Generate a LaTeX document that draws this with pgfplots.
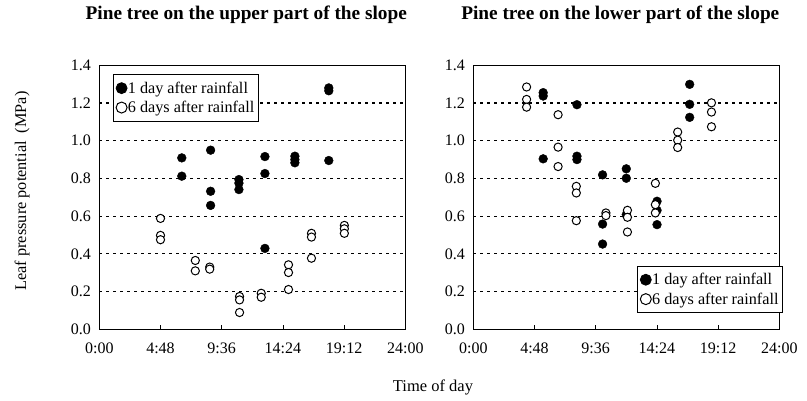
\documentclass[border=0pt]{standalone}
\usepackage{fontspec}
\setmainfont{Liberation Serif}
\usepackage{pgfplots}
\pgfplotsset{compat=1.18}
\pgfplotstableread{
h v
6.47 0.909
6.47 0.812
8.73 0.950
8.73 0.732
8.73 0.657
10.95 0.794
10.95 0.775
10.95 0.741
12.99 0.916
12.99 0.826
12.99 0.429
15.34 0.918
15.34 0.900
15.34 0.883
18.0 1.280
18.0 1.265
18.0 0.895
}\upperone
\pgfplotstableread{
h v
4.8 0.588
4.8 0.498
4.8 0.475
7.53 0.365
7.53 0.310
8.66 0.330
8.66 0.319
11.0 0.174
11.0 0.156
11.0 0.089
12.7 0.191
12.7 0.170
14.84 0.342
14.84 0.301
14.84 0.211
16.64 0.509
16.64 0.489
16.64 0.377
19.22 0.551
19.22 0.533
19.22 0.509
}\uppersix
\pgfplotstableread{
h v
5.48 1.255
5.48 1.237
5.48 0.904
8.13 1.191
8.13 0.918
8.13 0.900
10.14 0.819
10.14 0.558
10.14 0.452
12.0 0.851
12.0 0.801
12.0 0.608
14.41 0.679
14.41 0.631
14.41 0.555
16.97 1.299
16.97 1.193
16.97 1.124
}\lowerone
\pgfplotstableread{
h v
4.18 1.285
4.18 1.219
4.18 1.178
6.65 1.138
6.65 0.966
6.65 0.863
8.08 0.758
8.08 0.723
8.08 0.576
10.4 0.617
10.4 0.603
12.09 0.631
12.09 0.594
12.09 0.516
14.28 0.774
14.28 0.661
14.28 0.617
16.03 1.046
16.03 1.003
16.03 0.964
18.68 1.201
18.68 1.152
18.68 1.074
}\lowersix
\pgfplotsset{
 myax/.style={
  scale only axis, width=306pt, height=264pt,
  anchor=south west,
  xmin=0, xmax=24, ymin=0, ymax=1.4,
  xtick={0,4.8,9.6,14.4,19.2,24},
  xticklabels={0:00,4:48,9:36,14:24,19:12,24:00},
  ytick={0,0.2,0.4,0.6,0.8,1.0,1.2,1.4},
  /pgf/number format/assume math mode=true,
  /pgf/number format/fixed,
  /pgf/number format/fixed zerofill,
  /pgf/number format/precision=1,
  ticklabel style={font=\fontsize{16}{18}\selectfont},
  xtick pos=bottom, ytick pos=left,
  tick align=inside, major tick length=4pt,
  ytick style={draw=none},
  xtick style={line width=0.8pt, black},
  xticklabel style={yshift=-10pt},
  yticklabel style={xshift=-5pt},
  axis line style={line width=1.3pt, black},
  ymajorgrids,
  major grid style={dash pattern=on 2.2pt off 4.8pt, line width=1.1pt, black},
  title style={font=\fontsize{19.3}{22}\bfseries, anchor=base, at={(0.5,1)}, yshift=40pt, xshift=-6pt},
  legend style={draw=black, line width=0.8pt, font=\fontsize{16.2}{19}\selectfont,
    inner xsep=3pt, inner ysep=7pt, row sep=6.5pt,
    nodes={inner xsep=0.8pt, inner ysep=0pt},
    cells={anchor=west}},
  legend image code/.code={\draw[#1, mark size=5.5pt] plot coordinates {(5.5pt,0pt)};},
  legend cell align=left,
 },
 one/.style={only marks, mark=*, mark size=4.4pt, black},
 six/.style={only marks, mark=*, mark size=4.1pt, mark options={fill=white, draw=black, line width=1pt}},
}
\begin{document}
\begin{tikzpicture}
\path[use as bounding box] (0pt,0pt) rectangle (807pt,401pt);
\begin{axis}[myax, at={(99.3pt,71.7pt)},
  title={Pine tree on the upper part of the slope},
  legend style={at={(0,1)}, anchor=north west, xshift=13.4pt, yshift=-9pt}]
\addplot[one] table[x=h,y=v] {\upperone};
\addlegendentry{1 day after rainfall}
\addplot[six] table[x=h,y=v] {\uppersix};
\addlegendentry{6 days after rainfall\hspace{14pt}}
\end{axis}
\begin{axis}[myax, at={(473.3pt,71.7pt)},
  title={Pine tree on the lower part of the slope},
  legend style={at={(1,0)}, anchor=south east, xshift=3.4pt, yshift=16.3pt}]
\addplot[one] table[x=h,y=v] {\lowerone};
\addlegendentry{1 day after rainfall}
\addplot[six] table[x=h,y=v] {\lowersix};
\addlegendentry{6 days after rainfall}
\end{axis}
\node[rotate=90, font=\fontsize{16.3}{19}\selectfont] at (22pt,210pt) {Leaf pressure potential\ \ (MPa)};
\node[font=\fontsize{16.5}{19}\selectfont] at (433pt,14pt) {Time of day};
\end{tikzpicture}
\end{document}
